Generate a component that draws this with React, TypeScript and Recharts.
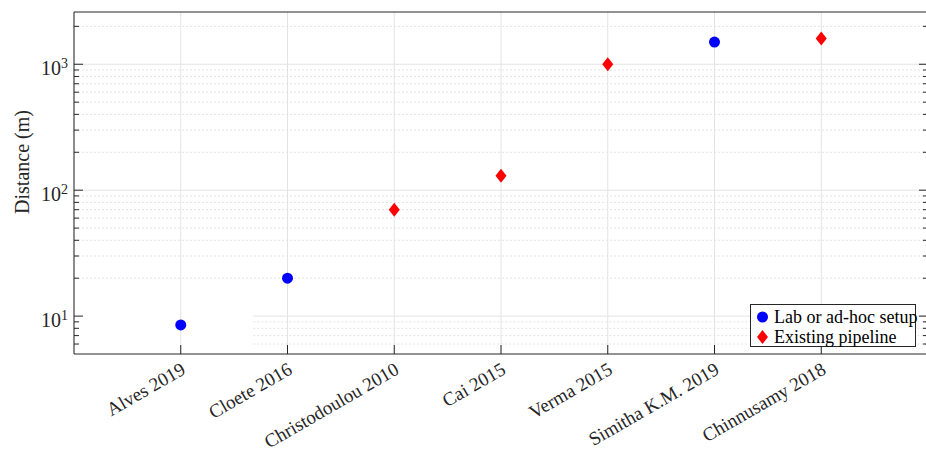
import React from 'react';
import { ComposedChart, Scatter, XAxis, YAxis, CartesianGrid, ReferenceLine } from 'recharts';

const categories = [
  'Alves 2019',
  'Cloete 2016',
  'Christodoulou 2010',
  'Cai 2015',
  'Verma 2015',
  'Simitha K.M. 2019',
  'Chinnusamy 2018',
];
const distances = [8.5, 20, 70, 130, 1000, 1500, 1600];
const setupTypes = ['lab', 'lab', 'pipeline', 'pipeline', 'pipeline', 'lab', 'pipeline'];
const labSeriesName = 'Lab or ad-hoc setup';
const pipelineSeriesName = 'Existing pipeline';
const majorTicks = [10, 100, 1000];
const minorTicks = [6, 7, 8, 9, 20, 30, 40, 50, 60, 70, 80, 90, 200, 300, 400, 500, 600, 700, 800, 900, 2000];
const yDomain = [5, 2600];
const xDomain = [0, 8];
const xTicks = [1, 2, 3, 4, 5, 6, 7];

const labData = categories
  .map((c, i) => ({ x: i + 1, y: distances[i], name: c, type: setupTypes[i] }))
  .filter((d) => d.type === 'lab');
const pipelineData = categories
  .map((c, i) => ({ x: i + 1, y: distances[i], name: c, type: setupTypes[i] }))
  .filter((d) => d.type === 'pipeline');

const FONT = "'Liberation Serif', 'Times New Roman', serif";
const AXIS = '#262626';
const GRID = '#e3e3e3';
const allYTicks = [...majorTicks, ...minorTicks].sort((a, b) => a - b);

const LeftTick = (props: any) => {
  const { x, y, payload } = props;
  const v = payload.value;
  const major = majorTicks.includes(v);
  const exp = Math.round(Math.log10(v));
  return (
    <g>
      <line x1={x} y1={y} x2={x + (major ? 9 : 5)} y2={y} stroke={AXIS} strokeWidth={1} />
      {major && (
        <text x={x - 6} y={y + 11} textAnchor="end" fontFamily={FONT} fontSize={20} fill={AXIS}>
          10
          <tspan dy={-7} fontSize={14}>{exp}</tspan>
        </text>
      )}
    </g>
  );
};

const RightTick = (props: any) => {
  const { x, y, payload } = props;
  const major = majorTicks.includes(payload.value);
  return <line x1={x} y1={y} x2={x - (major ? 9 : 5)} y2={y} stroke={AXIS} strokeWidth={1} />;
};

const BottomTick = (props: any) => {
  const { x, y, payload } = props;
  const label = categories[payload.value - 1];
  const tx = x + 6;
  const ty = y + 19;
  return (
    <g>
      <line x1={x} y1={y} x2={x} y2={y - 9} stroke={AXIS} strokeWidth={1} />
      <text
        x={tx}
        y={ty}
        transform={`rotate(-30, ${tx}, ${ty})`}
        textAnchor="end"
        fontFamily={FONT}
        fontSize={19}
        fill={AXIS}
      >
        {label}
      </text>
    </g>
  );
};

const TopTick = (props: any) => {
  const { x, y } = props;
  return <line x1={x} y1={y} x2={x} y2={y + 9} stroke={AXIS} strokeWidth={1} />;
};

const YLabel = (props: any) => {
  const vb = props.viewBox || { x: 73, y: 12, width: 1, height: 342 };
  const cx = vb.x + vb.width - 45;
  const cy = vb.y + vb.height / 2 - 21;
  return (
    <text
      x={cx}
      y={cy}
      transform={`rotate(-90, ${cx}, ${cy})`}
      textAnchor="middle"
      fontFamily={FONT}
      fontSize={20}
      fill={AXIS}
    >
      Distance (m)
    </text>
  );
};

const Diamond = (props: any) => {
  const { cx, cy } = props;
  if (cx == null || cy == null) return null;
  return <path d={`M${cx},${cy - 7} L${cx + 5.5},${cy} L${cx},${cy + 7} L${cx - 5.5},${cy} Z`} fill="#ff0000" />;
};

const Dot = (props: any) => {
  const { cx, cy } = props;
  if (cx == null || cy == null) return null;
  return <circle cx={cx} cy={cy} r={5.5} fill="#0000ff" />;
};

export default function App() {
  return (
    <div
      style={{
        position: 'absolute',
        left: 0,
        top: 0,
        width: 926,
        height: 452,
        overflow: 'hidden',
        background: '#fff',
      }}
    >
      <ComposedChart width={930} height={452} margin={{ top: 11, right: 1, left: 73, bottom: 97 }}>
        <CartesianGrid horizontal={false} vertical={true} stroke={GRID} strokeWidth={1} />
        {minorTicks.map((v) =>
          v < 10 ? (
            <ReferenceLine
              key={'m' + v}
              segment={[{ x: 1.68, y: v }, { x: 8, y: v }]}
              stroke={GRID}
              strokeDasharray="2 2"
            />
          ) : (
            <ReferenceLine key={'m' + v} y={v} stroke={GRID} strokeDasharray="2 2" />
          )
        )}
        {majorTicks.map((v) =>
          v <= 10 ? (
            <ReferenceLine key={'M' + v} segment={[{ x: 1.68, y: v }, { x: 8, y: v }]} stroke={GRID} />
          ) : (
            <ReferenceLine key={'M' + v} y={v} stroke={GRID} />
          )
        )}
        <XAxis
          dataKey="x"
          type="number"
          domain={xDomain}
          ticks={xTicks}
          interval={0}
          height={1}
          tickSize={0}
          tickMargin={0}
          tickLine={false}
          axisLine={{ stroke: AXIS, strokeWidth: 1 }}
          tick={<BottomTick />}
          allowDataOverflow
        />
        <XAxis
          xAxisId="top"
          orientation="top"
          type="number"
          domain={xDomain}
          ticks={xTicks}
          interval={0}
          height={1}
          tickSize={0}
          tickMargin={0}
          tickLine={false}
          axisLine={{ stroke: AXIS, strokeWidth: 1 }}
          tick={<TopTick />}
          allowDataOverflow
        />
        <YAxis
          dataKey="y"
          type="number"
          scale="log"
          domain={yDomain}
          ticks={allYTicks}
          interval={0}
          width={1}
          tickSize={0}
          tickMargin={0}
          tickLine={false}
          axisLine={{ stroke: AXIS, strokeWidth: 1 }}
          tick={<LeftTick />}
          label={<YLabel />}
          allowDataOverflow
        />
        <YAxis
          yAxisId="right"
          orientation="right"
          type="number"
          scale="log"
          domain={yDomain}
          ticks={allYTicks}
          interval={0}
          width={1}
          tickSize={0}
          tickMargin={0}
          tickLine={false}
          axisLine={{ stroke: AXIS, strokeWidth: 1 }}
          tick={<RightTick />}
          allowDataOverflow
        />
        <Scatter name={labSeriesName} data={labData} shape={<Dot />} isAnimationActive={false} />
        <Scatter name={pipelineSeriesName} data={pipelineData} shape={<Diamond />} isAnimationActive={false} />
      </ComposedChart>
      <div
        style={{
          position: 'absolute',
          left: 750,
          top: 304,
          width: 166,
          height: 43,
          boxSizing: 'border-box',
          border: `1px solid ${AXIS}`,
          background: '#fff',
          fontFamily: FONT,
          fontSize: 18,
          color: '#000',
        }}
      >
        {[
          { name: labSeriesName, kind: 'lab' },
          { name: pipelineSeriesName, kind: 'pipeline' },
        ].map((it, i) => (
          <div
            key={it.name}
            style={{ position: 'absolute', left: 0, top: 2 + i * 20, height: 20, display: 'flex', alignItems: 'center', whiteSpace: 'nowrap' }}
          >
            <svg width={22} height={20} style={{ display: 'block' }}>
              {it.kind === 'lab' ? (
                <circle cx={11.5} cy={10} r={5.5} fill="#0000ff" />
              ) : (
                <path d="M11.5,3 L17,10 L11.5,17 L6,10 Z" fill="#ff0000" />
              )}
            </svg>
            <span style={{ marginLeft: 1, lineHeight: '20px' }}>{it.name}</span>
          </div>
        ))}
      </div>
    </div>
  );
}
